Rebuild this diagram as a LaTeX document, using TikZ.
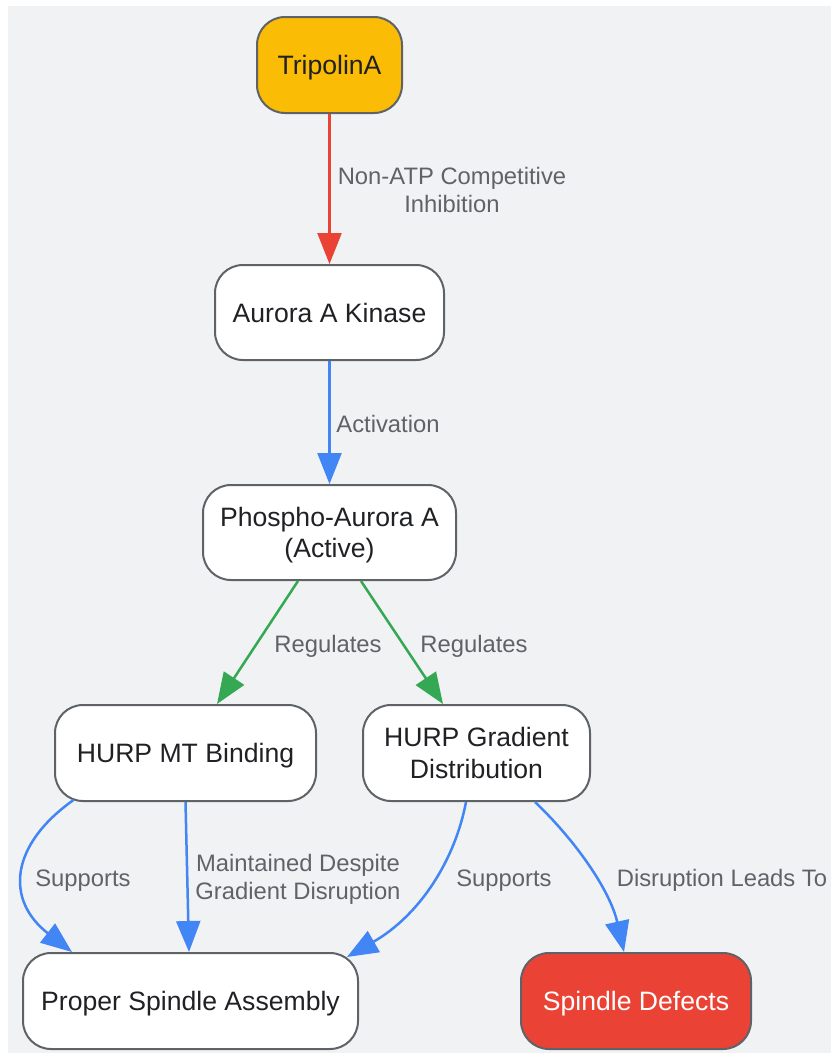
\documentclass[tikz,border=0pt]{standalone}
\usepackage{fontspec}
\setmainfont{Liberation Sans}
\usetikzlibrary{arrows.meta}
\definecolor{bgc}{HTML}{F1F2F4}
\definecolor{bordc}{HTML}{5F6368}
\definecolor{txtc}{HTML}{202124}
\definecolor{lblc}{HTML}{5F6368}
\definecolor{amber}{HTML}{FBBC05}
\definecolor{redc}{HTML}{EA4335}
\definecolor{bluec}{HTML}{4285F4}
\definecolor{greenc}{HTML}{34A853}
\tikzset{
  box/.style={draw=bordc, line width=2pt, rounded corners=28pt, fill=white,
    text=txtc, align=center, inner sep=0pt, text depth=0pt,
    font=\fontsize{26.6}{31.5}\selectfont},
  lbl/.style={text=lblc, align=center, inner sep=0pt, text depth=0pt,
    font=\fontsize{23.8}{28}\selectfont},
  conn/.style={line width=2.5pt, -{Triangle[length=31pt,width=24pt]}},
}
\begin{document}
\begin{tikzpicture}[x=1pt,y=-1pt]
\useasboundingbox (0,0) rectangle (831,1053);
\fill[bgc] (8,6) rectangle (831,1053);

\node[box, fill=amber, minimum width=145pt, minimum height=96pt] (trip) at (329.5,65) {TripolinA};
\node[box, minimum width=229pt, minimum height=95pt] (aur) at (329.5,312.5) {Aurora A Kinase};
\node[box, minimum width=253pt, minimum height=95pt] (pho) at (329.5,532.5) {Phospho-Aurora A\\(Active)};
\node[box, minimum width=261pt, minimum height=96pt] (mt) at (185.5,753) {HURP MT Binding};
\node[box, minimum width=227pt, minimum height=96pt] (grad) at (476.5,753) {HURP Gradient\\Distribution};
\node[box, minimum width=335pt, minimum height=96pt] (pro) at (190.5,1001) {Proper Spindle Assembly};
\node[box, fill=redc, text=white, minimum width=230pt, minimum height=96pt] (def) at (636,1001) {Spindle Defects};

\draw[conn, redc] (trip) -- (aur);
\draw[conn, bluec] (aur) -- (pho);
\draw[conn, greenc] ([xshift=-31.5pt]pho.south) -- ([xshift=31.5pt]mt.north);
\draw[conn, greenc] ([xshift=31.5pt]pho.south) -- ([xshift=-33.5pt]grad.north);
\draw[conn, bluec] ([xshift=-112pt,yshift=2pt]mt.south) .. controls (10,845) and (5,900) .. ([xshift=-118.5pt]pro.north);
\draw[conn, bluec] (mt.south) -- ([xshift=-1.5pt]pro.north);
\draw[conn, bluec] ([xshift=-10.5pt]grad.south) .. controls (455,860) and (420,915) .. ([xshift=156.5pt,yshift=-5pt]pro.north);
\draw[conn, bluec] ([xshift=58.5pt]grad.south) .. controls (575,840) and (610,890) .. ([xshift=-12pt]def.north);

\node[lbl] (l1) at (452,190) {Non-ATP Competitive\\Inhibition};
\node[lbl] (l2) at (388,424) {Activation};
\node[lbl] (l3) at (328,644) {Regulates};
\node[lbl] (l4) at (474,644) {Regulates};
\node[lbl] (l5) at (83,878) {Supports};
\node[lbl] (l6) at (298,877) {Maintained Despite\\Gradient Disruption};
\node[lbl] (l7) at (504,878) {Supports};
\node[lbl] (l8) at (722,878) {Disruption Leads To};
\end{tikzpicture}
\end{document}
